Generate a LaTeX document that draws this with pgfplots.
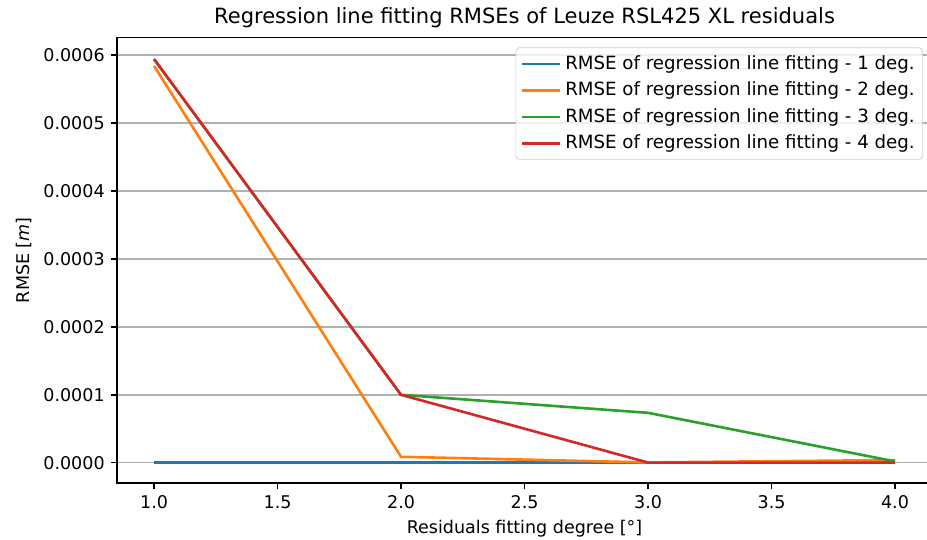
\documentclass[border=0pt]{standalone}
\usepackage{fontspec}
\setmainfont{DejaVu Sans}
\usepackage{pgfplots}
\pgfplotsset{compat=1.18}

\definecolor{tabblue}{HTML}{1F77B4}
\definecolor{taborange}{HTML}{FF7F0E}
\definecolor{tabgreen}{HTML}{2CA02C}
\definecolor{tabred}{HTML}{D62728}

\begin{document}
\begin{tikzpicture}
    % page size fixed to the reference crop (1px = 0.571pt), axis bottom left at origin
    \useasboundingbox (-66.8pt,-32.5pt) rectangle (462.5pt,275.8pt);
    \begin{axis}[
        scale only axis,
        width=465.4pt,
        height=254.4pt,
        at={(0,0)}, anchor=south west,
        xmin=0.85, xmax=4.15,
        ymin=-0.0000298, ymax=0.0006258,
        xtick={1.0,1.5,...,4.0},
        ytick={0,0.0001,...,0.00061},
        scaled y ticks=false,
        scaled x ticks=false,
        /pgf/number format/assume math mode=true,
        xticklabel style={/pgf/number format/.cd, fixed, fixed zerofill, precision=1},
        yticklabel style={/pgf/number format/.cd, fixed, fixed zerofill, precision=4},
        ticklabel style={font=\fontsize{10}{12}\selectfont},
        label style={font=\fontsize{10}{12}\selectfont},
        title style={font=\fontsize{12}{14}\selectfont, yshift=-4pt},
        title={Regression line fitting RMSEs of Leuze RSL425 XL residuals},
        xlabel={Residuals fitting degree [°]},
        ylabel={RMSE [\textit{m}]},
        tick align=outside,
        tick pos=left,
        major tick length=3.5pt,
        tick style={black, line width=0.8pt},
        axis line style={line width=0.8pt},
        ymajorgrids,
        major grid style={line width=0.8pt, draw=black!31},
        legend cell align=left,
        legend style={
            at={(1,1)}, anchor=north east,
            xshift=-5.2pt, yshift=-5.7pt,
            font=\fontsize{10.4}{12.5}\selectfont,
            draw=black!20, rounded corners=2pt,
            fill=white, fill opacity=0.8, text opacity=1,
            row sep=1.7pt,
            inner sep=2.5pt,
        },
        legend image post style={line width=1.5pt},
        legend image code/.code={\draw[#1] (0cm,0cm) -- (0.78cm,0cm);},
        every axis plot/.append style={line width=1.5pt},
    ]
    \addplot[color=tabblue] coordinates {
        (1.0,0) (2.0,0) (3.0,0) (4.0,0)
    };
    \addlegendentry{RMSE of regression line fitting - 1 deg.}
    \addplot[color=taborange] coordinates {
        (1.0,0.000584) (2.0,0.0000088) (3.0,0.0000005) (4.0,0.000004)
    };
    \addlegendentry{RMSE of regression line fitting - 2 deg.}
    \addplot[color=tabgreen] coordinates {
        (1.0,0.000594) (2.0,0.0001) (3.0,0.0000735) (4.0,0.000002)
    };
    \addlegendentry{RMSE of regression line fitting - 3 deg.}
    \addplot[color=tabred] coordinates {
        (1.0,0.000594) (2.0,0.0001) (3.0,0.0000003) (4.0,0.0000003)
    };
    \addlegendentry{RMSE of regression line fitting - 4 deg.}
    \end{axis}
\end{tikzpicture}
\end{document}
